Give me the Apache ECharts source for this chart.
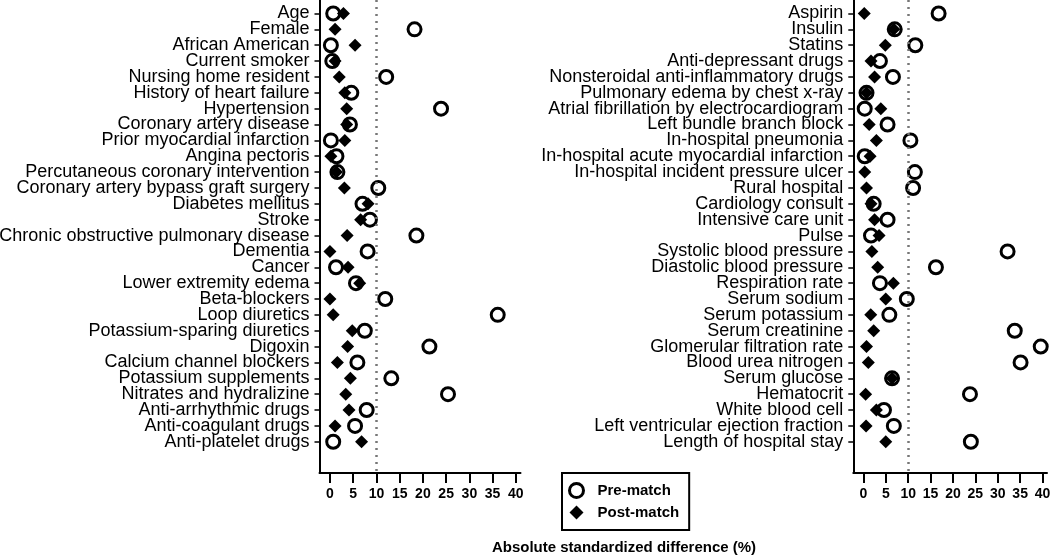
<!DOCTYPE html>
<html>
<head>
<meta charset="utf-8">
<script src="https://cdn.jsdelivr.net/npm/echarts@6/dist/echarts.min.js"></script>
<style>
html,body{margin:0;padding:0;background:#fff;}
#chart{width:1050px;height:556px;}
</style>
</head>
<body>
<div id="chart"></div>
<script>
const leftCats = ["Age","Female","African American","Current smoker","Nursing home resident","History of heart failure","Hypertension","Coronary artery disease","Prior myocardial infarction","Angina pectoris","Percutaneous coronary intervention","Coronary artery bypass graft surgery","Diabetes mellitus","Stroke","Chronic obstructive pulmonary disease","Dementia","Cancer","Lower extremity edema","Beta-blockers","Loop diuretics","Potassium-sparing diuretics","Digoxin","Calcium channel blockers","Potassium supplements","Nitrates and hydralizine","Anti-arrhythmic drugs","Anti-coagulant drugs","Anti-platelet drugs"];
const leftPre  = [0.7,18.2,0.2,0.5,12.1,4.6,23.9,4.3,0.2,1.4,1.6,10.4,7.0,8.6,18.6,8.1,1.3,5.6,11.9,36.1,7.5,21.4,5.9,13.2,25.4,7.9,5.4,0.7];
const leftPost = [2.9,1.1,5.4,1.1,2.0,3.2,3.6,3.6,3.2,0.2,1.4,3.1,8.2,6.6,3.7,0.0,3.9,6.4,0.0,0.7,4.8,3.8,1.6,4.4,3.4,4.1,1.1,6.8];

const rightCats = ["Aspirin","Insulin","Statins","Anti-depressant drugs","Nonsteroidal anti-inflammatory drugs","Pulmonary edema by chest x-ray","Atrial fibrillation by electrocardiogram","Left bundle branch block","In-hospital pneumonia","In-hospital acute myocardial infarction","In-hospital incident pressure ulcer","Rural hospital","Cardiology consult","Intensive care unit","Pulse","Systolic blood pressure","Diastolic blood pressure","Respiration rate","Serum sodium","Serum potassium","Serum creatinine","Glomerular filtration rate","Blood urea nitrogen","Serum glucose","Hematocrit","White blood cell","Left ventricular ejection fraction","Length of hospital stay"];
const rightPre  = [16.8,7.0,11.6,3.7,6.6,0.7,0.3,5.4,10.5,0.3,11.5,11.1,2.3,5.4,1.7,32.2,16.2,3.7,9.7,5.8,33.8,39.6,35.1,6.4,23.8,4.6,6.8,24.0];
const rightPost = [0.2,6.8,4.9,1.7,2.5,0.7,3.9,1.3,2.9,1.5,0.3,0.7,1.7,2.5,3.5,1.9,3.2,6.7,5.0,1.65,2.3,0.7,1.1,6.4,0.5,2.9,0.6,5.0];

const xTicks = [0,5,10,15,20,25,30,35,40];
const refLine = 10;
const legendNames = ["Pre-match","Post-match"];
const axisTitle = "Absolute standardized difference (%)";

const chart = echarts.init(document.getElementById('chart'), null, {renderer:'canvas'});

const Y_MIN = -0.851, Y_MAX = 28.97;
const rowIdx = leftCats.map((c,i)=>i);
const labelVals = [Y_MIN].concat(rowIdx, [Y_MAX]);
const catFont = "Liberation Sans, Arial, sans-serif";

function xAxisCfg(gi){
  return {
    gridIndex: gi, type:'value', min:-2.25, max:41,
    splitLine:{show:false},
    axisLine:{show:true, onZero:false, lineStyle:{color:'#000', width:2}},
    axisTick:{show:true, customValues:xTicks, length:10, lineStyle:{color:'#000', width:2}},
    axisLabel:{show:true, customValues:xTicks, margin:14, color:'#000', fontFamily:catFont, fontWeight:'bold', fontSize:14,
      showMinLabel:true, showMaxLabel:true, hideOverlap:false}
  };
}
function yAxisCfg(gi, cats){
  return {
    gridIndex: gi, type:'value', inverse:true, min:Y_MIN, max:Y_MAX,
    splitLine:{show:false},
    axisLine:{show:true, onZero:false, lineStyle:{color:'#000', width:2}},
    axisTick:{show:true, customValues:rowIdx, length:5, lineStyle:{color:'#000', width:1.5}},
    axisLabel:{show:true, customValues:labelVals, margin:10, color:'#000', fontFamily:catFont, fontSize:18, lineHeight:14,
      hideOverlap:false,
      formatter:(v)=>{ const i = Math.round(v); return (Math.abs(v - i) < 1e-6 && cats[i] !== undefined) ? cats[i] : ' '; }}
  };
}
function preSeries(gi, vals){
  return {
    name:legendNames[0], type:'scatter', xAxisIndex:gi, yAxisIndex:gi,
    symbol:'circle', symbolSize:13,
    itemStyle:{color:'rgba(255,255,255,0)', borderColor:'#000', borderWidth:3, opacity:1},
    data: vals.map((v,i)=>[v,i]),
    markLine:{silent:true, symbol:'none', label:{show:false}, animation:false,
      lineStyle:{type:[2,5], color:'#777', width:2.5}, data:[{xAxis:refLine}]},
    z:2
  };
}
function postSeries(gi, vals){
  return {
    name:legendNames[1], type:'scatter', xAxisIndex:gi, yAxisIndex:gi,
    symbol:'diamond', symbolSize:13,
    itemStyle:{color:'#000', opacity:1},
    data: vals.map((v,i)=>[v,i]),
    z:3
  };
}

chart.setOption({
  animation:false,
  backgroundColor:'#fff',
  grid:[
    {left:319.5, top:0, width:201, height:473, containLabel:false, outerBoundsMode:'none'},
    {left:853.3, top:0, width:193.7, height:473, containLabel:false, outerBoundsMode:'none'}
  ],
  xAxis:[xAxisCfg(0), xAxisCfg(1)],
  yAxis:[yAxisCfg(0,leftCats), yAxisCfg(1,rightCats)],
  legend:{
    data:[
      {name:legendNames[0], icon:'circle', itemStyle:{color:'rgba(255,255,255,0)', borderColor:'#000', borderWidth:3}},
      {name:legendNames[1], icon:'diamond', itemStyle:{color:'#000'}}
    ],
    orient:'vertical', left:562, top:473,
    itemWidth:14, itemHeight:14, itemGap:6,
    padding:[9,10,10,6],
    borderColor:'#000', borderWidth:2,
    selectedMode:false,
    textStyle:{color:'#000', fontWeight:'bold', fontSize:15, fontFamily:catFont, padding:[0,0,0,9]}
  },
  graphic:[{
    type:'text', x:624, y:548,
    style:{text:axisTitle, fill:'#000', font:'bold 15px Liberation Sans, Arial, sans-serif',
      align:'center', verticalAlign:'middle', textAlign:'center', textVerticalAlign:'middle'}
  }],
  series:[preSeries(0,leftPre), postSeries(0,leftPost), preSeries(1,rightPre), postSeries(1,rightPost)]
});
</script>
</body>
</html>
